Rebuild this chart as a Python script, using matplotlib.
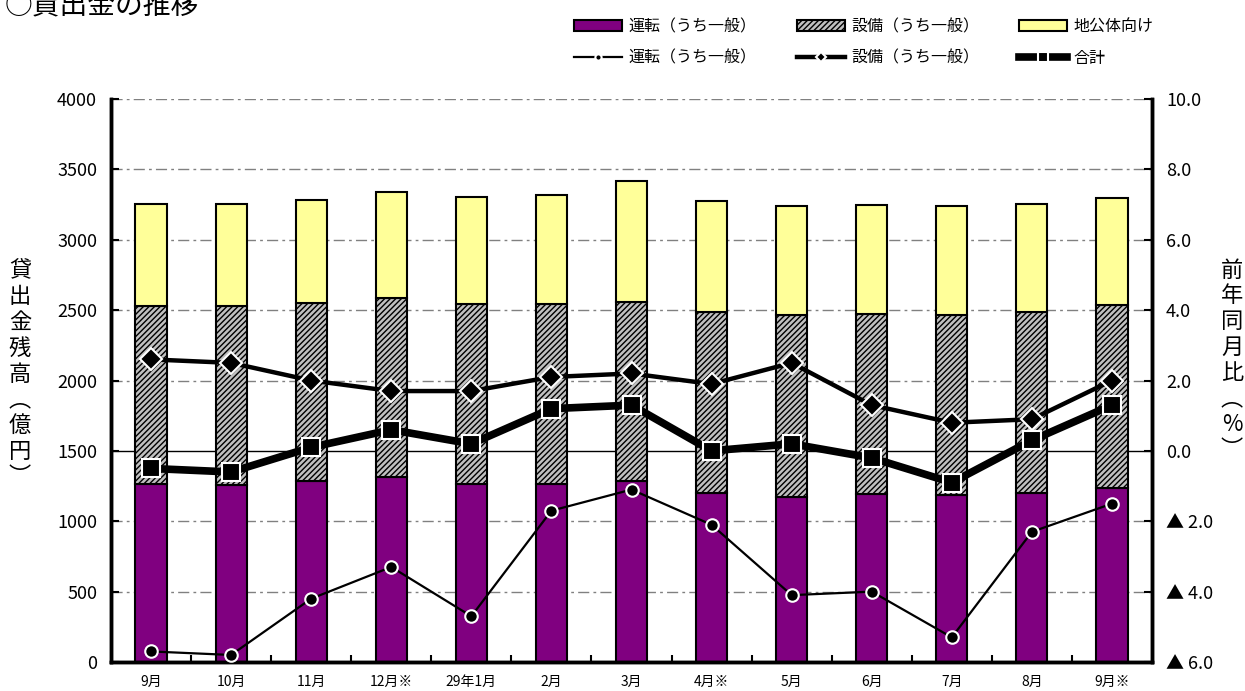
import numpy as np
import matplotlib
import matplotlib.pyplot as plt
from matplotlib.ticker import FuncFormatter, MultipleLocator

plt.rcParams['font.family'] = ['Noto Sans CJK JP', 'DejaVu Sans']
plt.rcParams['hatch.linewidth'] = 1.0

months = ['9月', '10月', '11月', '12月※', '29年1月', '2月', '3月',
          '4月※', '5月', '6月', '7月', '8月', '9月※']

# 貸出金残高（億円）
unten = [1266, 1259, 1283, 1311, 1266, 1266, 1283, 1200, 1169, 1193, 1186, 1200, 1233]
setsubi = [1265, 1269, 1271, 1274, 1279, 1277, 1276, 1290, 1295, 1278, 1280, 1290, 1305]
chikoutai = [725, 723, 731, 754, 756, 772, 856, 785, 773, 773, 774, 766, 761]

# 前年同月比（%）
unten_yoy = [-5.7, -5.8, -4.2, -3.3, -4.7, -1.7, -1.1, -2.1, -4.1, -4.0, -5.3, -2.3, -1.5]
setsubi_yoy = [2.6, 2.5, 2.0, 1.7, 1.7, 2.1, 2.2, 1.9, 2.5, 1.3, 0.8, 0.9, 2.0]
total_yoy = [-0.5, -0.6, 0.1, 0.6, 0.2, 1.2, 1.3, 0.0, 0.2, -0.2, -0.9, 0.3, 1.3]

x = np.arange(len(months))
w = 0.39

fig = plt.figure(figsize=(12.45, 6.91), dpi=100)
ax = fig.add_axes([111/1245, 29/691, (1152-111)/1245, (662-99)/691])
ax2 = ax.twinx()

bottom2 = np.array(unten)
bottom3 = bottom2 + np.array(setsubi)
b1 = ax.bar(x, unten, w, color='#800080', edgecolor='black', linewidth=1.5, zorder=2)
b2 = ax.bar(x, setsubi, w, bottom=bottom2, color='#c0c0c0', edgecolor='black',
            hatch='//////', linewidth=1.5, zorder=2)
b3 = ax.bar(x, chikoutai, w, bottom=bottom3, color='#ffff99', edgecolor='black',
            linewidth=1.5, zorder=2)

# grid lines
for v in range(500, 4001, 500):
    if v == 1500:
        ax.axhline(v, color='black', lw=1.0, zorder=1)
    else:
        ax.axhline(v, color='#808080', lw=1.0, dashes=(8, 3, 2, 3), zorder=1)

ax.set_ylim(0, 4000)
ax.set_xlim(-0.5, len(months) - 0.5)
ax.yaxis.set_major_locator(MultipleLocator(500))
ax.set_xticks(x)
ax.set_xticklabels(months, fontsize=10)
ax.set_xticks(np.arange(0.5, len(months) - 1, 1), minor=True)
ax.tick_params(axis='x', which='major', length=0, pad=9)
ax.tick_params(axis='x', which='minor', direction='in', length=5, width=1.5)
ax.tick_params(axis='y', direction='in', length=6, width=1.5, labelsize=13, pad=10)

ax2.set_ylim(-6, 10)
ax2.yaxis.set_major_locator(MultipleLocator(2))
ax2.yaxis.set_major_formatter(FuncFormatter(
    lambda v, p: f'▲ {abs(v):.1f}' if v < -0.01 else f'{abs(v):.1f}'))
ax2.tick_params(axis='y', direction='in', length=6, width=1.5, labelsize=13, pad=10)

l1, = ax2.plot(x, unten_yoy, color='black', lw=1.6, marker='o', ms=9,
               mfc='black', mec='white', mew=1.5, zorder=3)
l2, = ax2.plot(x, setsubi_yoy, color='black', lw=3.2, marker='D', ms=11,
               mfc='black', mec='white', mew=1.5, zorder=4)
l3, = ax2.plot(x, total_yoy, color='black', lw=5.5, marker='s', ms=13,
               mfc='black', mec='white', mew=1.5, zorder=5)

for a in (ax, ax2):
    a.spines['top'].set_visible(False)
    for s in ('left', 'right', 'bottom'):
        a.spines[s].set_linewidth(2.5)

fig.text(0.004, 1 - 6/691, '○貸出金の推移', fontsize=20, va='center', ha='left')

fig.text(20/1245, 1 - 374/691, '\n'.join('貸出金残高︵億円︶'), fontsize=16,
         va='center', ha='center', linespacing=1.15)
fig.text(1232/1245, 1 - 360/691, '\n'.join('前年同月比︵%︶'), fontsize=16,
         va='center', ha='center', linespacing=1.15)

handles = [b1, l1, b2, l2, b3, l3]
labels = ['運転（うち一般）', '運転（うち一般）', '設備（うち一般）', '設備（うち一般）',
          '地公体向け', '合計']
fig.legend(handles, labels, loc='upper left', bbox_to_anchor=(560/1245, 1 - 4/691),
           ncol=3, frameon=False, fontsize=11.5, handlelength=3.0, handletextpad=0.4,
           columnspacing=2.5, labelspacing=0.9, markerscale=0.5)

fig.savefig('out.png', dpi=100)
